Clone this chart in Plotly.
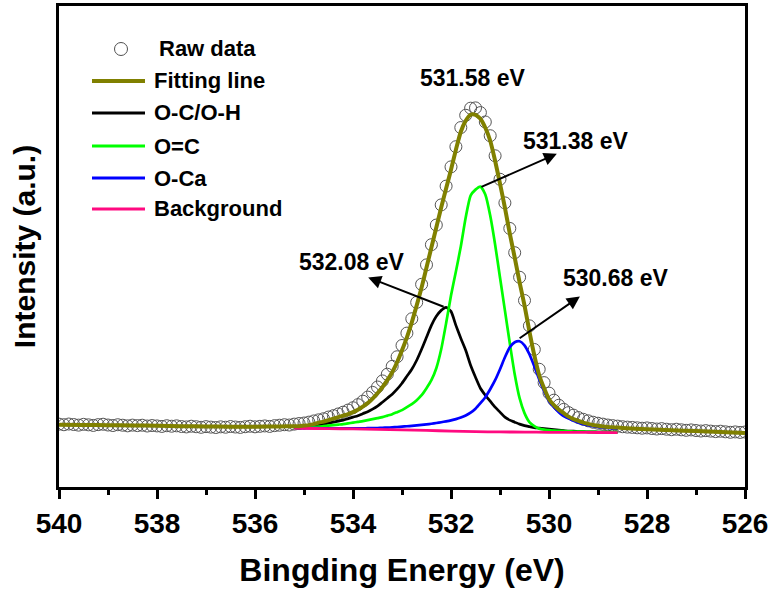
import plotly.graph_objects as go

# ---------------- data ----------------
# Raw data: binding energy 540.0 -> 526.0 eV, 0.1 eV step
raw_start, raw_step = 540.0, 0.1
raw_intensity = [
    63.0, 62.4, 63.1, 62.6, 62.0, 62.8, 62.3, 61.7, 62.5, 62.9,
    62.1, 61.6, 62.4, 61.9, 61.3, 62.0, 61.5, 61.9, 61.1, 61.6,
    61.2, 60.7, 61.4, 60.9, 61.3, 60.6, 60.2, 60.9, 60.4, 59.8,
    60.5, 60.0, 59.6, 60.3, 59.9, 60.6, 60.1, 59.7, 60.4, 60.9,
    60.3, 60.8, 61.2, 60.7, 61.5, 61.9, 62.4, 62.1, 63.0, 63.6,
    64.1, 65.0, 66.2, 67.3, 68.4, 70.1, 71.5, 73.2, 75.0, 77.1,
    79.4, 82.5, 86.0, 90.1, 94.8, 100.2, 106.3, 113.0, 120.9, 130.5,
    141.8, 154.2, 168.6, 185.0, 203.1, 222.6, 242.8, 262.5, 282.7, 301.5,
    320.8, 341.0, 360.2, 372.5, 379.6, 379.9, 375.2, 365.8, 352.0, 331.9,
    308.4, 284.7, 259.1, 234.8, 210.2, 186.9, 161.5, 137.8, 118.0, 104.6,
    94.1, 87.0, 81.9, 77.8, 74.5, 72.0, 69.6, 67.8, 66.3, 64.9,
    63.9, 63.0, 62.1, 61.5, 61.0, 60.4, 60.0, 59.7, 59.3, 58.9,
    59.2, 58.6, 58.1, 58.5, 57.9, 57.4, 57.9, 57.3, 56.8, 57.2,
    56.6, 56.1, 56.5, 56.0, 55.5, 55.9, 55.3, 54.8, 55.2, 54.7,
    55.1,
]
raw_energy = [round(raw_start - i * raw_step, 1) for i in range(len(raw_intensity))]

# Fitted components: 535.2 -> 528.6 eV, 0.1 eV step
comp_start, comp_step = 535.2, 0.1
oc_oh = [
    59.5, 60, 60.5, 61, 61.5, 62, 63, 64, 65, 66,
    67, 68.5, 70, 71.5, 73.5, 75.5, 78, 81, 85, 89,
    93, 98, 104, 111, 118, 127, 138, 150, 162, 171,
    177, 180, 176, 162, 149, 137, 122, 110, 99, 92,
    86, 80, 75, 70, 67, 65, 63, 61.5, 60.5, 59.5,
    59, 58.5, 58, 57.5, 57, 56.5, 56, 56, 55.5, 55.5,
    55.3, 55.2, 55.1, 55, 55, 55, 55,
]
o_eq_c = [
    59.5, 59.8, 60, 60, 60.2, 60.5, 61, 61.5, 62, 62.5,
    63, 63.7, 64.5, 65.3, 66, 67, 68, 69, 70, 71.5,
    73, 75, 77, 80, 83, 87, 92, 99, 107, 119,
    138, 164, 192, 216, 241, 270, 292, 298, 301, 293,
    272, 243, 210, 177, 144, 113, 89, 74, 65, 61,
    58.5, 57.5, 57, 56.5, 56.3, 56, 55.8, 55.6, 55.5, 55.4,
    55.3, 55.2, 55.1, 55, 55, 55, 55,
]
o_ca = [
    59.2, 59.1, 59, 59, 58.9, 58.9, 58.8, 58.8, 58.8, 58.7,
    58.7, 58.7, 58.7, 58.7, 58.8, 58.9, 59, 59.1, 59.3, 59.5,
    59.8, 60.1, 60.5, 60.9, 61.3, 61.8, 62.3, 62.8, 63.4, 64.1,
    64.9, 65.8, 66.8, 68, 69.6, 71.7, 74.5, 78.5, 84, 90,
    98, 107, 118, 130, 140, 145, 146, 142, 133, 121,
    108, 96, 86, 80, 75, 71, 68.5, 66.5, 64.5, 63,
    62, 61, 60.3, 59.7, 59.2, 58.8, 58.5,
]
comp_energy = [round(comp_start - i * comp_step, 1) for i in range(len(oc_oh))]

# Background (Shirley-type)
bg_energy = [535.2, 535.0, 534.5, 534.0, 533.5, 533.0, 532.5, 532.0,
             531.5, 531.0, 530.5, 530.0, 529.5, 529.0, 528.6]
bg_intensity = [59, 58.8, 58.5, 58.2, 57.8, 57.3, 56.7, 56.0,
                55.5, 55.2, 55.0, 54.8, 54.7, 54.6, 54.5]

# Fitting envelope
fit_energy = ([540.0, 539.5, 539.0, 538.5, 538.0, 537.5, 537.0, 536.5, 536.0, 535.5]
              + comp_energy
              + [528.5, 528.0, 527.5, 527.0, 526.5, 526.0])
fit_intensity = ([62.5, 62.2, 62.0, 61.7, 61.4, 61.0, 60.7, 60.5, 60.5, 60.7]
                 + [61, 61, 61.5, 62, 63, 64.5, 65.5, 67, 68.5, 70,
                    71.5, 73, 75, 77.5, 80.5, 84, 88.5, 94, 100, 107,
                    115, 125, 137, 150, 165, 182, 200, 220, 240, 260,
                    280, 299, 318, 338, 356, 367, 373, 373, 369, 360,
                    347, 327, 304, 280, 254, 230, 205, 182, 156, 132,
                    112, 99, 88, 82, 77.5, 74, 70.5, 68, 66.2, 64.5,
                    63.3, 62.2, 61.3, 60.7, 60.2, 59.8, 59.5]
                 + [59.2, 57.8, 56.8, 56.0, 55.0, 54.0])

x_ticks = [540, 538, 536, 534, 532, 530, 528, 526]
x_minor = [539, 537, 535, 533, 531, 529, 527]
peak_labels = ["531.58 eV", "531.38 eV", "532.08 eV", "530.68 eV"]
legend_names = ["Raw data", "Fitting line", "O-C/O-H", "O=C", "O-Ca", "Background"]

# ---------------- figure ----------------
FONT = "Liberation Sans"
fig = go.Figure()

fig.add_trace(go.Scatter(x=raw_energy, y=raw_intensity, mode="markers", name=legend_names[0],
                         marker=dict(symbol="circle-open", size=12, color="#555555",
                                     line=dict(width=1))))
fig.add_trace(go.Scatter(x=comp_energy, y=oc_oh, mode="lines", name=legend_names[2],
                         line=dict(color="black", width=2.7, shape="spline", smoothing=0.6)))
fig.add_trace(go.Scatter(x=comp_energy, y=o_eq_c, mode="lines", name=legend_names[3],
                         line=dict(color="#00FF00", width=2.7, shape="spline", smoothing=0.6)))
fig.add_trace(go.Scatter(x=comp_energy, y=o_ca, mode="lines", name=legend_names[4],
                         line=dict(color="#0000FF", width=2.7, shape="spline", smoothing=0.6)))
fig.add_trace(go.Scatter(x=bg_energy, y=bg_intensity, mode="lines", name=legend_names[5],
                         line=dict(color="#FF0A80", width=2.8, shape="spline", smoothing=0.6)))
fig.add_trace(go.Scatter(x=fit_energy, y=fit_intensity, mode="lines", name=legend_names[1],
                         line=dict(color="#808000", width=4, shape="spline", smoothing=0.6)))

fig.update_layout(
    width=775, height=594,
    margin=dict(l=59, r=30, t=6, b=107, autoexpand=False),
    plot_bgcolor="white", paper_bgcolor="white",
    showlegend=False,
    font=dict(family=FONT, color="black"),
)
fig.update_xaxes(
    range=[540, 526], showgrid=False, zeroline=False, automargin=False,
    showline=True, linecolor="black", linewidth=3, mirror=True,
    tickmode="array", tickvals=x_ticks, ticktext=[str(t) for t in x_ticks],
    ticks="outside", ticklen=9, tickwidth=2.5, tickcolor="black",
    minor=dict(tickmode="array", tickvals=x_minor, ticks="outside", ticklen=5,
               tickwidth=2.5, tickcolor="black"),
    tickfont=dict(family=FONT, size=28, weight="bold", color="black"),
    title=dict(text="Bingding Energy (eV)", standoff=22,
               font=dict(family=FONT, size=32, weight="bold", color="black")),
)
fig.update_yaxes(
    range=[0, 482], showgrid=False, zeroline=False, automargin=False,
    showline=True, linecolor="black", linewidth=3, mirror=True,
    showticklabels=False, ticks="",
    title=dict(text="Intensity (a.u.)", standoff=12,
               font=dict(family=FONT, size=30, weight="bold", color="black")),
)

# Peak labels
lab_font = dict(family=FONT, size=23, weight="bold", color="black")
label_pos = [(531.55, 410), (529.45, 347), (534.02, 225), (528.63, 209)]
for txt, (lx, ly) in zip(peak_labels, label_pos):
    fig.add_annotation(x=lx, y=ly, text=txt, showarrow=False, font=lab_font,
                       xanchor="center", yanchor="middle")

# Arrows from component peaks
arrows = [((531.41, 300), (529.84, 334)),
          ((532.12, 180), (533.69, 210)),
          ((530.63, 148), (529.37, 191))]
for (tx, ty), (hx, hy) in arrows:
    fig.add_annotation(x=hx, y=hy, ax=tx, ay=ty, axref="x", ayref="y", xref="x", yref="y",
                       text="", showarrow=True, arrowhead=2, arrowsize=1.3, arrowwidth=2,
                       arrowcolor="black", standoff=0, startstandoff=0)

# Manual legend (paper coordinates)
def px2paper(px, py):
    return (px - 59) / 686, (487 - py) / 481

leg_font = dict(family=FONT, size=22, weight="bold", color="black")
rows = [49, 81, 113, 146, 178, 209]
leg_colors = [None, "#808000", "black", "#00FF00", "#0000FF", "#FF0A80"]
leg_widths = [0, 4, 2.8, 2.8, 2.8, 2.8]
for name, py, col, w in zip(legend_names, rows, leg_colors, leg_widths):
    if col is None:
        cx, cy = px2paper(121, py)
        fig.add_shape(type="circle", xref="paper", yref="paper",
                      x0=cx - 6.5 / 686, x1=cx + 6.5 / 686,
                      y0=cy - 6.5 / 481, y1=cy + 6.5 / 481,
                      line=dict(color="#505050", width=1))
        tx, ty = px2paper(157, py)
    else:
        x0, y0 = px2paper(92, py)
        x1, _ = px2paper(145, py)
        fig.add_shape(type="line", xref="paper", yref="paper", x0=x0, x1=x1, y0=y0, y1=y0,
                      line=dict(color=col, width=w))
        tx, ty = px2paper(152, py)
    fig.add_annotation(x=tx, y=ty, xref="paper", yref="paper", text=name, showarrow=False,
                       font=leg_font, xanchor="left", yanchor="middle")

fig.write_html("out.html", config={"displayModeBar": False},
               post_script="document.body.style.margin='0px';")
